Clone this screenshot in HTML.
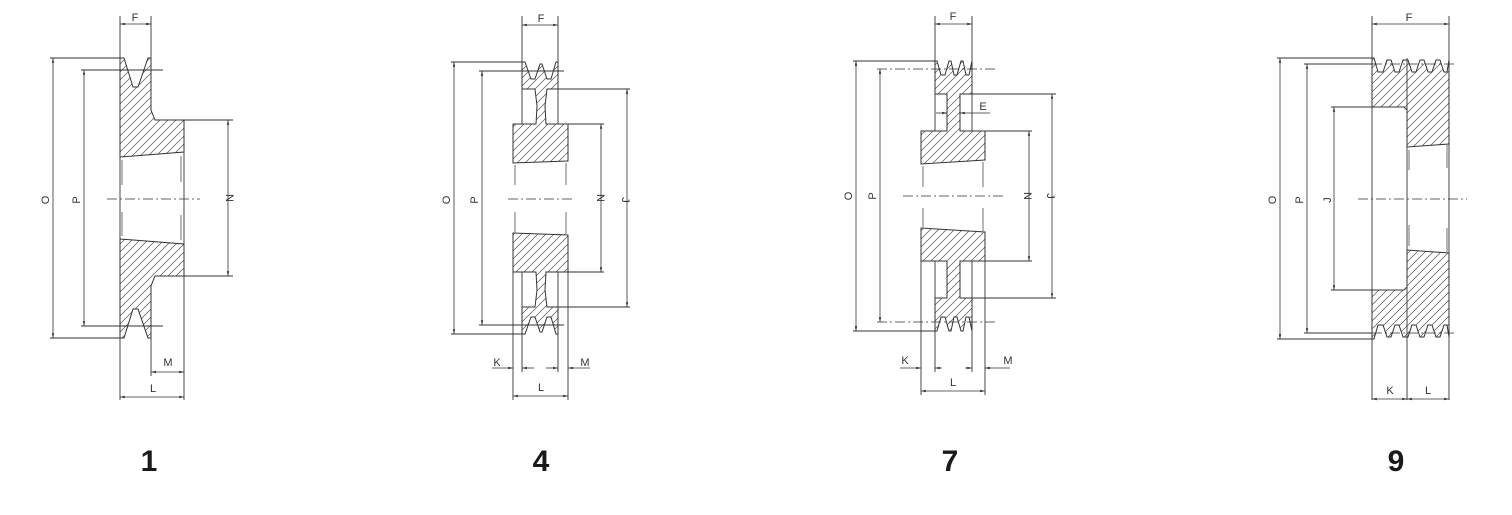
<!DOCTYPE html>
<html><head><meta charset="utf-8"><style>
html,body{margin:0;padding:0;background:#fff;}
svg{display:block;}
.o{stroke:#333;stroke-width:1;fill:url(#h);}
.m{stroke:#333;stroke-width:1;fill:url(#h2);}
.l{stroke:#333;stroke-width:0.9;fill:none;}
.d{stroke:#333;stroke-width:0.8;fill:none;marker-start:url(#a);marker-end:url(#a);}
.e{stroke:#333;stroke-width:0.8;fill:none;marker-end:url(#a);}
.c{stroke:#333;stroke-width:0.8;fill:none;stroke-dasharray:10 3 2 3;}
.g{stroke:#888;stroke-width:1.2;fill:none;}
.t{font-family:"Liberation Sans",sans-serif;font-size:11px;fill:#333;text-anchor:middle;}
.n{font-family:"Liberation Sans",sans-serif;font-size:30px;font-weight:bold;fill:#1a1a1a;text-anchor:middle;}
</style></head><body>
<svg width="1512" height="515" viewBox="0 0 1512 515" xmlns="http://www.w3.org/2000/svg">
<defs>
<pattern id="h" patternUnits="userSpaceOnUse" width="8" height="8">
<path d="M-2,2 l4,-4 M0,8 l8,-8 M6,10 l4,-4" stroke="#555" stroke-width="0.7"/>
</pattern>
<pattern id="h2" patternUnits="userSpaceOnUse" width="8" height="8">
<path d="M-2,6 l4,4 M0,0 l8,8 M6,-2 l4,4" stroke="#555" stroke-width="0.7"/>
</pattern>
<marker id="a" viewBox="0 0 10 10" refX="10" refY="5" markerWidth="6" markerHeight="6" orient="auto-start-reverse"><path d="M0,2.5L10,5L0,7.5z" fill="#333"/></marker>
</defs>

<!-- ===== Diagram 1 ===== -->
<g>
<path class="o" d="M120,58 L124,58 L133,87 L138,87 L148,58 L151,58 L151,110 L155,120 L184,120 L184,152 L120,157 Z"/>
<path class="m" transform="translate(0,396) scale(1,-1)" d="M120,58 L124,58 L133,87 L138,87 L148,58 L151,58 L151,110 L155,120 L184,120 L184,152 L120,157 Z"/>
<line class="l" x1="120" y1="16" x2="120" y2="400"/>
<line class="l" x1="151" y1="16" x2="151" y2="58"/>
<line class="l" x1="151" y1="338" x2="151" y2="376"/>
<line class="l" x1="184" y1="152" x2="184" y2="244"/>
<line class="l" x1="184" y1="276" x2="184" y2="400"/>
<line class="g" x1="122" y1="160" x2="122" y2="185"/><line class="g" x1="122" y1="212" x2="122" y2="236"/>
<line class="g" x1="181" y1="156" x2="181" y2="182"/><line class="g" x1="181" y1="215" x2="181" y2="240"/>
<line class="d" x1="120" y1="24" x2="151" y2="24"/>
<text class="t" x="135" y="21">F</text>
<line class="l" x1="50" y1="58" x2="124" y2="58"/><line class="l" x1="50" y1="338" x2="124" y2="338"/>
<line class="d" x1="53" y1="58" x2="53" y2="338"/>
<text class="t" transform="translate(49,200) rotate(-90)">O</text>
<line class="l" x1="81" y1="70" x2="163" y2="70"/><line class="l" x1="81" y1="326" x2="163" y2="326"/>
<line class="d" x1="84" y1="70" x2="84" y2="326"/>
<text class="t" transform="translate(80,200) rotate(-90)">P</text>
<line class="l" x1="184" y1="120" x2="233" y2="120"/><line class="l" x1="184" y1="276" x2="233" y2="276"/>
<line class="d" x1="228" y1="120" x2="228" y2="276"/>
<text class="t" transform="translate(226,198) rotate(90)">N</text>
<line class="c" x1="107" y1="199" x2="200" y2="199"/>
<line class="d" x1="151" y1="372" x2="184" y2="372"/>
<text class="t" x="168" y="366">M</text>
<line class="d" x1="120" y1="397" x2="184" y2="397"/>
<text class="t" x="153" y="392">L</text>
<text class="n" x="149" y="471">1</text>
</g>

<!-- ===== Diagram 4 ===== -->
<g>
<path class="o" d="M522,62 L525,62 L531,79 L535,79 L540,64 L542,64 L547,79 L551,79 L556,62 L558,62 L558,89 L547,89 L545,106 L546,124 L568,124 L568,161 L513,163 L513,124 L536,124 L537,106 L535,89 L522,89 Z"/>
<path class="m" transform="translate(0,396) scale(1,-1)" d="M522,62 L525,62 L531,79 L535,79 L540,64 L542,64 L547,79 L551,79 L556,62 L558,62 L558,89 L547,89 L545,106 L546,124 L568,124 L568,161 L513,163 L513,124 L536,124 L537,106 L535,89 L522,89 Z"/>
<line class="l" x1="522" y1="16" x2="522" y2="124"/><line class="l" x1="522" y1="272" x2="522" y2="372"/>
<line class="l" x1="558" y1="16" x2="558" y2="124"/><line class="l" x1="558" y1="272" x2="558" y2="372"/>
<line class="l" x1="513" y1="272" x2="513" y2="400"/><line class="l" x1="568" y1="272" x2="568" y2="400"/>
<line class="g" x1="515" y1="165" x2="515" y2="185"/><line class="g" x1="515" y1="212" x2="515" y2="234"/>
<line class="g" x1="566" y1="163" x2="566" y2="185"/><line class="g" x1="566" y1="212" x2="566" y2="234"/>
<line class="d" x1="522" y1="25" x2="558" y2="25"/>
<text class="t" x="541" y="22">F</text>
<line class="l" x1="451" y1="62" x2="524" y2="62"/><line class="l" x1="451" y1="334" x2="524" y2="334"/>
<line class="d" x1="454" y1="62" x2="454" y2="334"/>
<text class="t" transform="translate(450,200) rotate(-90)">O</text>
<line class="l" x1="479" y1="71" x2="564" y2="71"/><line class="l" x1="479" y1="325" x2="564" y2="325"/>
<line class="d" x1="482" y1="71" x2="482" y2="325"/>
<text class="t" transform="translate(478,200) rotate(-90)">P</text>
<line class="l" x1="558" y1="89" x2="630" y2="89"/><line class="l" x1="558" y1="307" x2="630" y2="307"/>
<line class="d" x1="627" y1="89" x2="627" y2="307"/>
<text class="t" transform="translate(622,200) rotate(90)">J</text>
<line class="l" x1="568" y1="124" x2="604" y2="124"/><line class="l" x1="568" y1="272" x2="604" y2="272"/>
<line class="d" x1="601" y1="124" x2="601" y2="272"/>
<text class="t" transform="translate(597,198) rotate(90)">N</text>
<line class="c" x1="508" y1="199" x2="572" y2="199"/>
<line class="e" x1="492" y1="368" x2="513" y2="368"/><line class="e" x1="534" y1="368" x2="522" y2="368"/>
<text class="t" x="497" y="366">K</text>
<line class="e" x1="546" y1="368" x2="558" y2="368"/><line class="e" x1="590" y1="368" x2="568" y2="368"/>
<text class="t" x="585" y="366">M</text>
<line class="d" x1="513" y1="396" x2="568" y2="396"/>
<text class="t" x="541" y="391">L</text>
<text class="n" x="541" y="471">4</text>
</g>

<!-- ===== Diagram 7 ===== -->
<g>
<path class="o" d="M935,61 L937,61 L941,75 L945,75 L949,61 L951,61 L954,75 L957,75 L961,61 L963,61 L966,75 L969,75 L972,61 L972,94 L960,94 L960,131 L985,131 L985,160 L921,164 L921,131 L947,131 L947,94 L935,94 Z"/>
<path class="m" transform="translate(0,392) scale(1,-1)" d="M935,61 L937,61 L941,75 L945,75 L949,61 L951,61 L954,75 L957,75 L961,61 L963,61 L966,75 L969,75 L972,61 L972,94 L960,94 L960,131 L985,131 L985,160 L921,164 L921,131 L947,131 L947,94 L935,94 Z"/>
<line class="l" x1="935" y1="16" x2="935" y2="131"/><line class="l" x1="935" y1="261" x2="935" y2="372"/>
<line class="l" x1="972" y1="16" x2="972" y2="131"/><line class="l" x1="972" y1="261" x2="972" y2="372"/>
<line class="l" x1="921" y1="261" x2="921" y2="395"/><line class="l" x1="985" y1="261" x2="985" y2="395"/>
<line class="g" x1="923" y1="166" x2="923" y2="187"/><line class="g" x1="923" y1="208" x2="923" y2="229"/>
<line class="g" x1="983" y1="162" x2="983" y2="187"/><line class="g" x1="983" y1="208" x2="983" y2="233"/>
<line class="d" x1="935" y1="24" x2="972" y2="24"/>
<text class="t" x="953" y="20">F</text>
<line class="l" x1="853" y1="61" x2="937" y2="61"/><line class="l" x1="853" y1="331" x2="937" y2="331"/>
<line class="d" x1="856" y1="61" x2="856" y2="331"/>
<text class="t" transform="translate(852,196) rotate(-90)">O</text>
<line class="c" x1="877" y1="69" x2="998" y2="69"/><line class="c" x1="877" y1="322" x2="998" y2="322"/>
<line class="d" x1="880" y1="69" x2="880" y2="322"/>
<text class="t" transform="translate(876,196) rotate(-90)">P</text>
<line class="e" x1="936" y1="113" x2="947" y2="113"/><line class="e" x1="990" y1="113" x2="960" y2="113"/>
<text class="t" x="983" y="110">E</text>
<line class="l" x1="972" y1="94" x2="1056" y2="94"/><line class="l" x1="972" y1="298" x2="1056" y2="298"/>
<line class="d" x1="1052" y1="94" x2="1052" y2="298"/>
<text class="t" transform="translate(1047,196) rotate(90)">J</text>
<line class="l" x1="985" y1="131" x2="1032" y2="131"/><line class="l" x1="985" y1="261" x2="1032" y2="261"/>
<line class="d" x1="1029" y1="131" x2="1029" y2="261"/>
<text class="t" transform="translate(1024,196) rotate(90)">N</text>
<line class="c" x1="903" y1="196" x2="1005" y2="196"/>
<line class="e" x1="900" y1="368" x2="921" y2="368"/><line class="e" x1="942" y1="368" x2="935" y2="368"/>
<text class="t" x="905" y="364">K</text>
<line class="e" x1="965" y1="368" x2="972" y2="368"/><line class="e" x1="1010" y1="368" x2="985" y2="368"/>
<text class="t" x="1008" y="364">M</text>
<line class="d" x1="921" y1="391" x2="985" y2="391"/>
<text class="t" x="953" y="386">L</text>
<text class="n" x="950" y="471">7</text>
</g>

<!-- ===== Diagram 9 ===== -->
<g>
<path class="o" d="M1372,58 L1374,58 L1378,72 L1383,72 L1387,60 L1391,60 L1395,72 L1399,72 L1403,60 L1408,60 L1412,72 L1416,72 L1420,60 L1424,60 L1428,72 L1432,72 L1436,60 L1440,60 L1444,72 L1447,72 L1449,60 L1449,144 L1407,147 L1407,110 L1404,107 L1372,107 Z"/>
<path class="m" transform="translate(0,397) scale(1,-1)" d="M1372,58 L1374,58 L1378,72 L1383,72 L1387,60 L1391,60 L1395,72 L1399,72 L1403,60 L1408,60 L1412,72 L1416,72 L1420,60 L1424,60 L1428,72 L1432,72 L1436,60 L1440,60 L1444,72 L1447,72 L1449,60 L1449,144 L1407,147 L1407,110 L1404,107 L1372,107 Z"/>
<line class="l" x1="1372" y1="16" x2="1372" y2="400"/>
<line class="l" x1="1449" y1="16" x2="1449" y2="400"/>
<line class="l" x1="1407" y1="58" x2="1407" y2="400"/>
<line class="g" x1="1409" y1="150" x2="1409" y2="170"/><line class="g" x1="1409" y1="225" x2="1409" y2="246"/>
<line class="g" x1="1447" y1="145" x2="1447" y2="168"/><line class="g" x1="1447" y1="228" x2="1447" y2="253"/>
<line class="d" x1="1372" y1="24" x2="1449" y2="24"/>
<text class="t" x="1409" y="21">F</text>
<line class="l" x1="1277" y1="58" x2="1374" y2="58"/><line class="l" x1="1277" y1="339" x2="1374" y2="339"/>
<line class="d" x1="1280" y1="58" x2="1280" y2="339"/>
<text class="t" transform="translate(1276,200) rotate(-90)">O</text>
<line class="l" x1="1304" y1="64" x2="1372" y2="64"/><line class="l" x1="1304" y1="333" x2="1372" y2="333"/>
<line class="c" x1="1372" y1="64" x2="1455" y2="64"/><line class="c" x1="1372" y1="333" x2="1455" y2="333"/>
<line class="d" x1="1307" y1="64" x2="1307" y2="333"/>
<text class="t" transform="translate(1303,200) rotate(-90)">P</text>
<line class="l" x1="1331" y1="107" x2="1372" y2="107"/><line class="l" x1="1331" y1="290" x2="1372" y2="290"/>
<line class="d" x1="1334" y1="107" x2="1334" y2="290"/>
<text class="t" transform="translate(1331,200) rotate(-90)">J</text>
<line class="c" x1="1358" y1="199" x2="1467" y2="199"/>
<line class="d" x1="1372" y1="399" x2="1407" y2="399"/>
<text class="t" x="1390" y="394">K</text>
<line class="d" x1="1407" y1="399" x2="1449" y2="399"/>
<text class="t" x="1428" y="394">L</text>
<text class="n" x="1396" y="471">9</text>
</g>
</svg>
</body></html>
